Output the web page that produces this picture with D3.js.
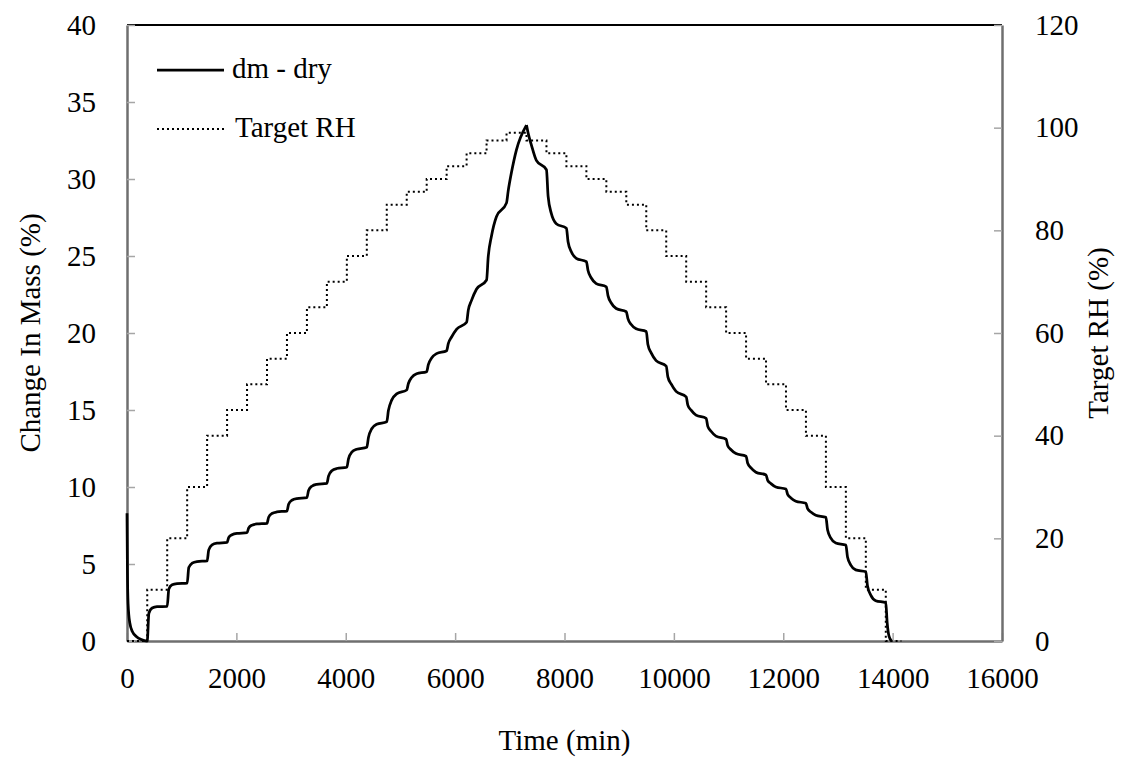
<!DOCTYPE html>
<html>
<head>
<meta charset="utf-8">
<script src="https://cdn.jsdelivr.net/npm/d3@7"></script>
<style>
  body { margin: 0; background: #fff; }
  svg text { font-family: "Liberation Serif", "Times New Roman", serif !important; fill: #000; }
</style>
</head>
<body>
<div id="chart"></div>
<script>
// Tick values
var xTicks = [0, 2000, 4000, 6000, 8000, 10000, 12000, 14000, 16000];
var massTicks = [0, 5, 10, 15, 20, 25, 30, 35, 40];
var rhTicks = [0, 20, 40, 60, 80, 100, 120];

// Target RH steps (start time of each step, level held until next start)
var rhTime = [0, 370, 735, 1100, 1465, 1830, 2195, 2560, 2925, 3290, 3655, 4020, 4385, 4750,
    5115, 5480, 5845, 6210, 6575, 6940, 7305, 7670, 8035, 8400, 8765, 9130, 9495, 9860,
    10225, 10590, 10955, 11320, 11685, 12050, 12415, 12780, 13145, 13510, 13875, 14160];
var rhLevel = [0, 10, 20, 30, 40, 45, 50, 55, 60, 65, 70, 75, 80, 85,
    87.5, 90, 92.5, 95, 97.5, 99, 97.5, 95, 92.5, 90, 87.5, 85, 80,
    75, 70, 65, 60, 55, 50, 45, 40, 30, 20, 10, 0, 0];

// dm - dry (one row per RH step)
var dmTime = [
    0, 8, 20, 50, 100, 170, 260, 370,
    400, 460, 550, 735,
    765, 825, 915, 1100,
    1130, 1190, 1280, 1465,
    1495, 1555, 1645, 1830,
    1860, 1920, 2010, 2195,
    2225, 2285, 2375, 2560,
    2590, 2650, 2740, 2925,
    2955, 3015, 3105, 3290,
    3320, 3380, 3470, 3655,
    3685, 3745, 3835, 4020,
    4050, 4110, 4200, 4385,
    4415, 4475, 4565, 4750,
    4780, 4840, 4930, 5115,
    5145, 5205, 5295, 5480,
    5510, 5570, 5660, 5845,
    5875, 5935, 6025, 6210,
    6240, 6300, 6390, 6575,
    6605, 6665, 6755, 6940,
    6970, 7030, 7120, 7305,
    7335, 7395, 7485, 7670,
    7700, 7760, 7850, 8035,
    8065, 8125, 8215, 8400,
    8430, 8490, 8580, 8765,
    8795, 8855, 8945, 9130,
    9160, 9220, 9310, 9495,
    9525, 9585, 9675, 9860,
    9890, 9950, 10040, 10225,
    10255, 10315, 10405, 10590,
    10620, 10680, 10770, 10955,
    10985, 11045, 11135, 11320,
    11350, 11410, 11500, 11685,
    11715, 11775, 11865, 12050,
    12080, 12140, 12230, 12415,
    12445, 12505, 12595, 12780,
    12810, 12870, 12960, 13145,
    13175, 13235, 13325, 13510,
    13540, 13600, 13690, 13875,
    13900, 13935, 13980];
var dmMass = [
    8.3, 4.5, 2.4, 1.2, 0.6, 0.3, 0.1, 0,
    1.8, 2.14, 2.23, 2.25,
    3.38, 3.65, 3.72, 3.75,
    4.77, 5.05, 5.16, 5.2,
    5.92, 6.24, 6.35, 6.4,
    6.72, 6.9, 6.99, 7.03,
    7.34, 7.52, 7.6, 7.64,
    8.04, 8.28, 8.38, 8.44,
    8.88, 9.14, 9.25, 9.31,
    9.78, 10.05, 10.17, 10.24,
    10.71, 11.05, 11.2, 11.28,
    11.83, 12.26, 12.45, 12.58,
    13.21, 13.78, 14.07, 14.24,
    14.96, 15.64, 16.05, 16.3,
    16.72, 17.11, 17.35, 17.49,
    17.94, 18.37, 18.66, 18.85,
    19.31, 19.74, 20.24, 20.7,
    21.47, 22.12, 22.84, 23.44,
    24.94, 26.3, 27.55, 28.45,
    29.21, 30.42, 31.88, 33.5,
    32.98, 32.2, 31.21, 30.6,
    28.89, 27.75, 27.1, 26.8,
    25.93, 25.28, 24.85, 24.63,
    24.06, 23.57, 23.21, 23.0,
    22.43, 21.95, 21.59, 21.38,
    20.93, 20.55, 20.27, 20.1,
    19.25, 18.71, 18.21, 17.85,
    17.15, 16.69, 16.21, 15.85,
    15.32, 14.99, 14.67, 14.46,
    13.94, 13.62, 13.3, 13.1,
    12.68, 12.42, 12.17, 12.0,
    11.54, 11.24, 10.96, 10.78,
    10.43, 10.22, 10.0, 9.87,
    9.52, 9.29, 9.08, 8.94,
    8.59, 8.38, 8.17, 8.03,
    7.22, 6.68, 6.36, 6.23,
    5.45, 4.93, 4.62, 4.5,
    3.59, 2.98, 2.62, 2.48,
    1.2, 0.3, 0];

var margin = { top: 25, right: 120, bottom: 126, left: 127 };
var width = 1122, height = 767;
var plotW = width - margin.left - margin.right,
    plotH = height - margin.top - margin.bottom;
var fontSize = 29;
var serif = '"Liberation Serif", "Times New Roman", serif';

var svg = d3.select("#chart").append("svg")
    .attr("width", width)
    .attr("height", height);

var g = svg.append("g")
    .attr("transform", `translate(${margin.left}, ${margin.top})`);

// Scales
var x = d3.scaleLinear().domain([0, 16000]).range([0, plotW]);
var yMass = d3.scaleLinear().domain([0, 40]).range([plotH, 0]);
var yRH = d3.scaleLinear().domain([0, 120]).range([plotH, 0]);

// Plot border top line (black)
g.append("line")
    .attr("x1", 0).attr("x2", plotW)
    .attr("y1", 0).attr("y2", 0)
    .attr("stroke", "#000")
    .attr("stroke-width", 2);

// Axes, ticks point inside
var fmt = d3.format("d");
var xAxis = d3.axisBottom(x).tickValues(xTicks).tickFormat(fmt)
    .tickSizeInner(-8).tickSizeOuter(0).tickPadding(26);
var leftAxis = d3.axisLeft(yMass).tickValues(massTicks).tickFormat(fmt)
    .tickSizeInner(-8).tickSizeOuter(0).tickPadding(31);
var rightAxis = d3.axisRight(yRH).tickValues(rhTicks).tickFormat(fmt)
    .tickSizeInner(-8).tickSizeOuter(0).tickPadding(33);

g.append("g").attr("class", "axis").attr("transform", `translate(0, ${plotH})`).call(xAxis);
g.append("g").attr("class", "axis").call(leftAxis);
g.append("g").attr("class", "axis").attr("transform", `translate(${plotW}, 0)`).call(rightAxis);

g.selectAll(".axis")
    .attr("font-family", serif)
    .attr("font-size", fontSize);
g.selectAll(".axis .domain")
    .attr("stroke", "#6f6f6f")
    .attr("stroke-width", 2.5);
g.selectAll(".axis .tick line")
    .attr("stroke", "#a6a6a6")
    .attr("stroke-width", 1.5);
g.selectAll(".axis text")
    .style("font-family", serif)
    .attr("fill", "#000");

// Target RH, dotted step line
var rhData = rhTime.map(function (t, i) { return { t: t, v: rhLevel[i] }; });
var rhLine = d3.line()
    .x(function (d) { return x(d.t); })
    .y(function (d) { return yRH(d.v); })
    .curve(d3.curveStepAfter);

g.append("path")
    .datum(rhData)
    .attr("fill", "none")
    .attr("stroke", "#000")
    .attr("stroke-width", 2)
    .attr("stroke-dasharray", "2,3")
    .attr("d", rhLine);

// dm - dry, split at the peak so the top stays sharp
var dmData = dmTime.map(function (t, i) { return { t: t, v: dmMass[i] }; });
var peak = d3.maxIndex(dmData, function (d) { return d.v; });
var dmLine = d3.line()
    .x(function (d) { return x(d.t); })
    .y(function (d) { return yMass(d.v); })
    .curve(d3.curveMonotoneX);

[dmData.slice(0, peak + 1), dmData.slice(peak)].forEach(function (part) {
    g.append("path")
        .datum(part)
        .attr("fill", "none")
        .attr("stroke", "#000")
        .attr("stroke-width", 2.75)
        .attr("stroke-linejoin", "round")
        .attr("d", dmLine);
});

// Legend
var legend = svg.append("g");
legend.append("line")
    .attr("x1", 157).attr("x2", 224).attr("y1", 70).attr("y2", 70)
    .attr("stroke", "#000").attr("stroke-width", 2.75);
legend.append("text")
    .attr("x", 232).attr("y", 78)
    .attr("font-size", fontSize)
    .text("dm - dry");
legend.append("line")
    .attr("x1", 157).attr("x2", 224).attr("y1", 129).attr("y2", 129)
    .attr("stroke", "#000").attr("stroke-width", 2)
    .attr("stroke-dasharray", "2,3");
legend.append("text")
    .attr("x", 235).attr("y", 137)
    .attr("font-size", fontSize)
    .text("Target RH");

// Axis titles
svg.append("text")
    .attr("x", margin.left + plotW / 2).attr("y", 750)
    .attr("text-anchor", "middle")
    .attr("font-size", fontSize)
    .text("Time (min)");

svg.append("text")
    .attr("transform", `translate(40, ${margin.top + plotH / 2}) rotate(-90)`)
    .attr("text-anchor", "middle")
    .attr("font-size", fontSize)
    .text("Change In Mass (%)");

svg.append("text")
    .attr("transform", `translate(1108, ${margin.top + plotH / 2}) rotate(-90)`)
    .attr("text-anchor", "middle")
    .attr("font-size", fontSize)
    .text("Target RH (%)");
</script>
</body>
</html>
